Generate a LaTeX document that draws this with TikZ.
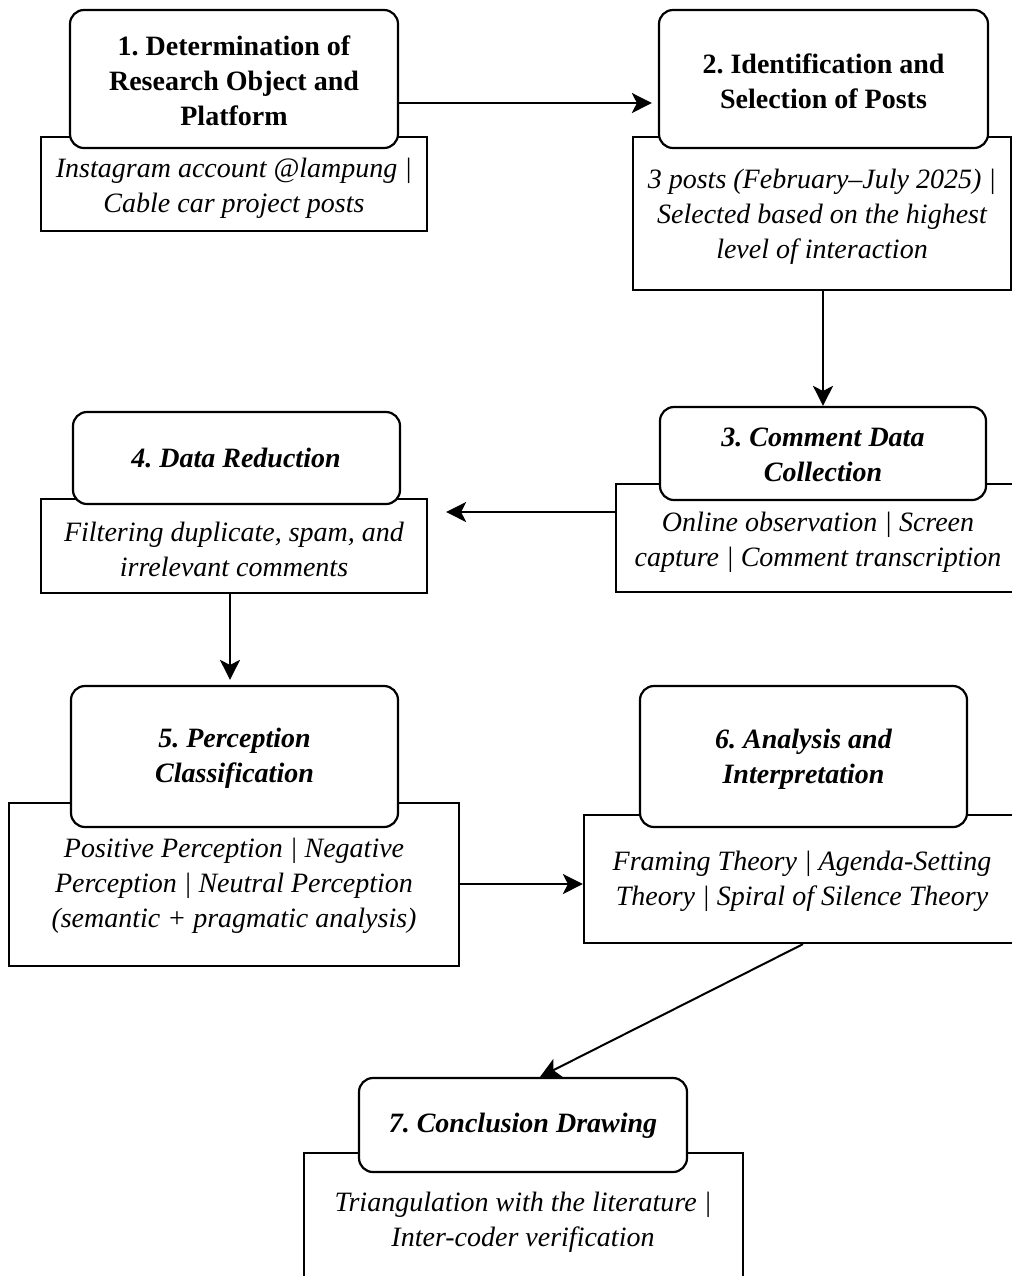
\documentclass[tikz,border=0pt]{standalone}
\usepackage{fontspec}
\setmainfont{Liberation Serif}
\usetikzlibrary{fit,arrows.meta,calc}
\frenchspacing
\begin{document}
\begin{tikzpicture}[x=0.5pt,y=-0.5pt,
 sbox/.style={draw, line width=1.1pt, fill=white, inner sep=0pt},
 rbox/.style={draw, line width=1.1pt, fill=white, inner sep=0pt, rounded corners=7pt},
 ttl/.style={align=center, inner sep=0pt, font=\bfseries\fontsize{14}{17.5}\selectfont},
 ttli/.style={ttl, font=\bfseries\itshape\fontsize{14}{17.5}\selectfont},
 desc/.style={align=center, inner sep=0pt, font=\itshape\fontsize{14}{17.5}\selectfont},
 arr/.style={line width=1pt, -{Stealth[length=10pt,width=10pt,inset=2.5pt]}}]
\useasboundingbox (0,0) rectangle (1012,1276);
% description rectangles
\node[sbox, fit={(41,137) (427,231)}] (r1) {};
\node[sbox, fit={(633,137) (1011,290)}] (r2) {};
\node[sbox, fit={(616,484) (1020,592)}] (r3) {};
\node[sbox, fit={(41,499) (427,593)}] (r4) {};
\node[sbox, fit={(9,803) (459,966)}] (r5) {};
\node[sbox, fit={(584,815) (1021,943)}] (r6) {};
\node[sbox, fit={(304,1153) (743,1300)}] (r7) {};
% rounded title boxes
\node[rbox, fit={(70,10) (398,148)}] (b1) {};
\node[rbox, fit={(659,10) (988,148)}] (b2) {};
\node[rbox, fit={(660,407) (986,500)}] (b3) {};
\node[rbox, fit={(73,412) (400,504)}] (b4) {};
\node[rbox, fit={(71,686) (398,827)}] (b5) {};
\node[rbox, fit={(640,686) (967,827)}] (b6) {};
\node[rbox, fit={(359,1078) (687,1172)}] (b7) {};
% titles
\node[ttl] (h1) at (234,81) {1. Determination of\\Research Object and\\Platform};
\node[ttl] (h2) at (823.5,81.5) {2. Identification and\\Selection of Posts};
\node[ttli] (h3) at (823,455) {3. Comment Data\\Collection};
\node[ttli] (h4) at (236,458) {4. Data Reduction};
\node[ttli] (h5) at (234.5,758) {5. Perception\\Classification};
\node[ttli] (h6) at (803.5,759) {6. Analysis and\\Interpretation};
\node[ttli] (h7) at (523,1126) {7. Conclusion Drawing};
% description texts
\node[desc] (t1) at (234,188) {Instagram account @lampung |\\Cable car project posts};
\node[desc] (t2) at (822,217) {3 posts (February\textendash July 2025) |\\Selected based on the highest\\level of interaction};
\node[desc] (t3) at (818,542) {Online observation | Screen\\capture | Comment transcription};
\node[desc] (t4) at (234,549) {Filtering duplicate, spam, and\\irrelevant comments};
\node[desc] (t5) at (234,886) {Positive Perception | Negative\\Perception | Neutral Perception\\(semantic + pragmatic analysis)};
\node[desc] (t6) at (802,881) {Framing Theory | Agenda-Setting\\Theory | Spiral of Silence Theory};
\node[desc] (t7) at (523,1222) {Triangulation with the literature |\\Inter-coder verification};
% helper coordinates
\coordinate (y12) at (0,103);
\coordinate (y34) at (0,512);
\coordinate (x45) at (230,0);
\coordinate (y56) at (0,884);
\coordinate (x6s) at (803,0);
\coordinate (x7e) at (540,0);
% connectors
\draw[arr, shorten >=3pt] (b1.east |- y12) -- (b2.west |- y12);
\draw[arr] (b3.north |- r2.south) -- (b3.north);
\draw[arr, shorten >=9pt] (r3.west |- y34) -- (r4.east |- y34);
\draw[arr, shorten >=2.5pt] (r4.south -| x45) -- (b5.north -| x45);
\draw[arr] (r5.east |- y56) -- (r6.west |- y56);
\draw[arr] (r6.south -| x6s) -- (b7.north -| x7e);
\end{tikzpicture}
\end{document}
